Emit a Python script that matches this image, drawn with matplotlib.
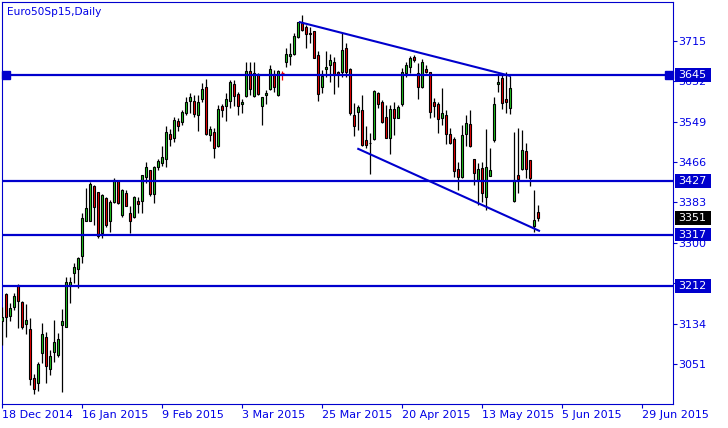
import matplotlib.pyplot as plt
from matplotlib.patches import Rectangle

# daily OHLC, one entry per bar (bars are evenly spaced like in the terminal)
opens = [3140, 3195, 3151, 3169, 3212, 3178, 3133, 3123, 3022, 3013,
         3075, 3106, 3042, 3076, 3069, 3131, 3127, 3214, 3238, 3246,
         3274, 3346, 3346, 3417, 3404, 3320, 3392, 3346, 3383, 3427,
         3357, 3403, 3362, 3353, 3386, 3387, 3436, 3450, 3400, 3455,
         3465, 3473, 3523, 3516, 3550, 3548, 3566, 3592, 3592, 3562,
         3596, 3619, 3522, 3527, 3498, 3580, 3580, 3591, 3626, 3605,
         3585, 3602, 3653, 3602, 3647, 3581, 3603, 3616, 3646, 3604,
         3649, 3672, 3684, 3688, 3723, 3751, 3744, 3731, 3734, 3686,
         3619, 3657, 3665, 3671, 3650, 3651, 3699, 3657, 3563, 3569,
         3573, 3511, 3506, 3513, 3608, 3590, 3559, 3515, 3575, 3557,
         3585, 3649, 3662, 3682, 3649, 3619, 3656, 3651, 3589, 3585,
         3557, 3563, 3523, 3513, 3452, 3436, 3523, 3544, 3472, 3429,
         3453, 3395, 3438, 3511, 3626, 3638, 3595, 3576, 3387, 3439,
         3451, 3489, 3470, 3335, 3364]
highs = [3169, 3198, 3176, 3197, 3215, 3180, 3174, 3145, 3031, 3055,
         3136, 3118, 3080, 3142, 3115, 3165, 3230, 3231, 3258, 3272,
         3362, 3412, 3426, 3419, 3404, 3400, 3395, 3388, 3433, 3429,
         3411, 3409, 3375, 3396, 3395, 3439, 3467, 3450, 3457, 3472,
         3499, 3539, 3533, 3558, 3556, 3573, 3600, 3607, 3604, 3604,
         3628, 3636, 3539, 3535, 3583, 3585, 3607, 3634, 3634, 3609,
         3595, 3672, 3672, 3672, 3649, 3600, 3614, 3665, 3655, 3655,
         3653, 3701, 3710, 3730, 3754, 3768, 3747, 3744, 3734, 3694,
         3655, 3694, 3687, 3682, 3653, 3730, 3710, 3658, 3587, 3583,
         3604, 3539, 3525, 3614, 3610, 3593, 3583, 3583, 3589, 3583,
         3658, 3672, 3684, 3686, 3669, 3677, 3665, 3651, 3597, 3590,
         3617, 3573, 3535, 3517, 3467, 3542, 3563, 3573, 3472, 3465,
         3467, 3533, 3494, 3600, 3645, 3645, 3651, 3643, 3528, 3536,
         3532, 3506, 3470, 3409, 3378]
lows = [3091, 3106, 3139, 3162, 3125, 3123, 3113, 3009, 2990, 2996,
        3054, 3013, 3030, 3056, 3065, 2995, 3127, 3176, 3217, 3207,
        3258, 3344, 3346, 3337, 3311, 3310, 3332, 3323, 3381, 3380,
        3354, 3375, 3321, 3351, 3362, 3362, 3424, 3397, 3381, 3450,
        3457, 3455, 3498, 3508, 3530, 3542, 3563, 3566, 3559, 3530,
        3590, 3522, 3509, 3475, 3496, 3559, 3551, 3576, 3580, 3563,
        3567, 3600, 3604, 3600, 3604, 3542, 3585, 3614, 3610, 3602,
        3634, 3662, 3665, 3686, 3720, 3734, 3699, 3710, 3679, 3591,
        3607, 3641, 3631, 3605, 3621, 3641, 3641, 3563, 3520, 3532,
        3498, 3494, 3441, 3511, 3576, 3546, 3515, 3482, 3522, 3556,
        3581, 3641, 3648, 3672, 3595, 3617, 3649, 3556, 3559, 3525,
        3542, 3504, 3503, 3436, 3409, 3433, 3498, 3496, 3419, 3378,
        3385, 3368, 3437, 3508, 3610, 3574, 3567, 3565, 3385, 3403,
        3450, 3433, 3417, 3323, 3346]
closes = [3148, 3147, 3166, 3191, 3181, 3127, 3141, 3020, 3000, 3052,
          3113, 3048, 3067, 3097, 3102, 3139, 3219, 3220, 3250, 3269,
          3351, 3371, 3420, 3373, 3314, 3398, 3337, 3384, 3429, 3381,
          3408, 3376, 3344, 3395, 3379, 3439, 3455, 3400, 3455, 3468,
          3477, 3527, 3513, 3552, 3539, 3568, 3589, 3599, 3565, 3589,
          3615, 3524, 3533, 3494, 3574, 3573, 3595, 3630, 3602, 3582,
          3589, 3653, 3615, 3648, 3606, 3599, 3607, 3657, 3621, 3653,
          3649, 3687, 3688, 3725, 3753, 3737, 3728, 3728, 3680, 3605,
          3643, 3662, 3675, 3646, 3646, 3696, 3651, 3567, 3539, 3578,
          3500, 3500, 3505, 3612, 3585, 3548, 3516, 3575, 3557, 3578,
          3651, 3665, 3679, 3675, 3619, 3672, 3651, 3569, 3582, 3554,
          3567, 3523, 3506, 3448, 3436, 3522, 3546, 3498, 3443, 3451,
          3403, 3456, 3450, 3585, 3631, 3587, 3590, 3617, 3429, 3431,
          3491, 3451, 3434, 3347, 3351]
marked_bar = 70

levels = [3645, 3427, 3317, 3212]
last_price = 3351
yticks = [3051, 3134, 3217, 3300, 3383, 3466, 3549, 3632, 3715]
xtick_bars = [0, 20, 40, 60, 80, 100, 120, 140, 160]
xtick_labels = ['18 Dec 2014', '16 Jan 2015', '9 Feb 2015', '3 Mar 2015',
                '25 Mar 2015', '20 Apr 2015', '13 May 2015', '5 Jun 2015',
                '29 Jun 2015']
upper_x, upper_y = [74.4, 126.9], [3753, 3643]
lower_x, lower_y = [89.0, 134.2], [3493, 3325]

blue = '#0000CD'
txt_blue = '#0000E6'
bull = '#1FC81F'
bear = '#F00000'

fig = plt.figure(figsize=(7.28, 4.28), dpi=100)
ax = fig.add_axes([2 / 728, 24.5 / 428, 671 / 728, 401.5 / 428])
ax.set_xlim(-0.08, 167.7)
ax.set_ylim(2970.5, 3794.4)

# candles
for i in range(len(opens)):
    o, h, l, c = opens[i], highs[i], lows[i], closes[i]
    if i == marked_bar:
        ax.vlines(i, l, h, color=bear, lw=0.9, zorder=3)
        ax.hlines(c, i - 0.4, i + 0.4, color=bear, lw=0.9, zorder=3)
        continue
    ax.vlines(i, l, h, color='black', lw=0.9, zorder=3)
    col = bull if c > o else bear if c < o else 'black'
    ax.bar(i, abs(c - o), bottom=min(o, c), width=0.55, color=col,
           edgecolor='black', linewidth=0.8, zorder=4)

# horizontal levels
for lv in levels:
    ax.axhline(lv, color=blue, lw=1.6, zorder=5)

ax.plot(upper_x, upper_y, color=blue, lw=1.5, zorder=5)
ax.plot(lower_x, lower_y, color=blue, lw=1.5, zorder=5)

# selected object handles on the 3645 line
ax.plot([0.0064, 0.9933], [levels[0], levels[0]], 's', ms=5.3, color=blue,
        transform=ax.get_yaxis_transform(), clip_on=False, zorder=6)

# frame and axes
for sp in ax.spines.values():
    sp.set_color(blue)
    sp.set_linewidth(0.8)

ax.yaxis.tick_right()
ax.set_yticks(yticks)
ax.set_yticklabels([str(v) for v in yticks])
ax.tick_params(axis='y', colors=blue, labelcolor=txt_blue, labelsize=8,
               length=3, width=0.8, pad=1)
ax.set_xticks(xtick_bars)
ax.set_xticklabels(xtick_labels)
ax.tick_params(axis='x', colors=blue, labelcolor=txt_blue, labelsize=8,
               length=3, width=0.8, pad=2)
for lbl in ax.get_xticklabels():
    lbl.set_ha('left')

# price labels on the right
ytr = ax.get_yaxis_transform()
for lv, bg in [(v, blue) for v in levels] + [(last_price, 'black')]:
    ax.add_patch(Rectangle((1.003, lv - 14), 0.054, 28, transform=ytr,
                           facecolor=bg, edgecolor='none', clip_on=False, zorder=7))
    ax.text(1.0075, lv, str(lv), transform=ytr, color='white', fontsize=8,
            va='center', ha='left', clip_on=False, zorder=8)

ax.text(0.008, 0.988, 'Euro50Sp15,Daily', transform=ax.transAxes,
        va='top', ha='left', fontsize=7.6, color=txt_blue)

fig.savefig('out.png', dpi=100)
